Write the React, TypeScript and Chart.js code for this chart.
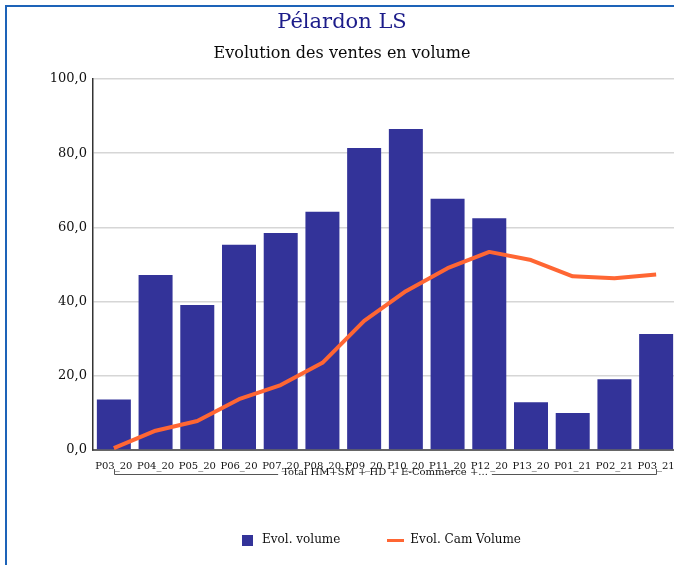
import React, { useEffect, useRef } from "react";
import { Chart, registerables } from "chart.js";

Chart.register(...registerables);

const categories = ["P03_20", "P04_20", "P05_20", "P06_20", "P07_20", "P08_20", "P09_20", "P10_20", "P11_20", "P12_20", "P13_20", "P01_21", "P02_21", "P03_21"];
const evolVolume = [13.6, 47.2, 39.1, 55.3, 58.5, 64.2, 81.4, 86.5, 67.7, 62.5, 12.9, 10.0, 19.1, 31.3];
const evolCamVolume = [0.5, 5.2, 7.8, 13.7, 17.5, 23.5, 34.8, 42.8, 49.0, 53.4, 51.2, 46.8, 46.3, 47.3];
const groupLabel = "Total HM+SM + HD + E-Commerce +...";
const titleText = "Pélardon LS";
const subtitleText = "Evolution des ventes en volume";
const seriesNames = ["Evol. volume", "Evol. Cam Volume"];

const FONT = '"DejaVu Serif", serif';
const BAR_COLOR = "#333399";
const LINE_COLOR = "#ff6633";

const bracketPlugin = {
  id: "groupBracket",
  afterLayout(chart: any) {
    const lg = chart.legend;
    if (lg) {
      lg.left -= 5;
      lg.right -= 5;
    }
  },
  afterDraw(chart: any) {
    const xs = chart.scales.x;
    const ca = chart.chartArea;
    const ctx = chart.ctx;
    const n = categories.length;
    const x0 = xs.getPixelForTick(0);
    const x1 = xs.getPixelForTick(n - 1);
    const cx = (x0 + x1) / 2;
    const yTop = ca.bottom + 19;
    const yLine = ca.bottom + 24.5;
    ctx.save();
    ctx.font = "10px " + FONT;
    const w = ctx.measureText(groupLabel).width;
    ctx.strokeStyle = "#555555";
    ctx.lineWidth = 1;
    ctx.beginPath();
    ctx.moveTo(Math.round(x0) + 0.5, yTop);
    ctx.lineTo(Math.round(x0) + 0.5, yLine);
    ctx.lineTo(cx - w / 2 - 4, yLine);
    ctx.moveTo(cx + w / 2 + 4, yLine);
    ctx.lineTo(Math.round(x1) + 0.5, yLine);
    ctx.lineTo(Math.round(x1) + 0.5, yTop);
    ctx.stroke();
    ctx.fillStyle = "#111111";
    ctx.textAlign = "center";
    ctx.textBaseline = "middle";
    ctx.fillText(groupLabel, cx, ca.bottom + 22.5);
    ctx.restore();
  },
};

export default function App() {
  const canvasRef = useRef<HTMLCanvasElement | null>(null);

  useEffect(() => {
    if (!canvasRef.current) return;
    const sq = document.createElement("canvas");
    sq.width = 11;
    sq.height = 11;
    const sctx = sq.getContext("2d")!;
    sctx.fillStyle = BAR_COLOR;
    sctx.fillRect(0, 0, 11, 11);
    const ln = document.createElement("canvas");
    ln.width = 17;
    ln.height = 3;
    const lctx = ln.getContext("2d")!;
    lctx.fillStyle = LINE_COLOR;
    lctx.fillRect(0, 0, 17, 3);

    const chart = new Chart(canvasRef.current, {
      type: "bar",
      data: {
        labels: categories,
        datasets: [
          {
            type: "bar",
            label: seriesNames[0],
            data: evolVolume,
            backgroundColor: BAR_COLOR,
            borderWidth: 0,
            barPercentage: 1,
            categoryPercentage: 0.815,
            order: 1,
            pointStyle: sq as any,
          },
          {
            type: "line",
            label: seriesNames[1],
            data: evolCamVolume,
            borderColor: LINE_COLOR,
            backgroundColor: LINE_COLOR,
            borderWidth: 4,
            pointRadius: 0,
            tension: 0,
            borderJoinStyle: "round",
            order: 0,
            pointStyle: ln as any,
          } as any,
        ],
      },
      options: {
        animation: false,
        responsive: false,
        maintainAspectRatio: false,
        layout: { padding: { left: 0, right: 10, top: 0, bottom: 11 } },
        plugins: {
          tooltip: { enabled: false },
          title: {
            display: true,
            text: titleText,
            color: "#1c1c8a",
            font: { family: FONT, size: 21, weight: "normal" },
            padding: { top: 3, bottom: 0 },
          },
          subtitle: {
            display: true,
            text: subtitleText,
            color: "#0a0a0a",
            font: { family: FONT, size: 16, weight: "normal" },
            padding: { top: 9, bottom: 15.6 },
          },
          legend: {
            position: "bottom",
            fullSize: false,
            labels: {
              usePointStyle: true,
              pointStyleWidth: 17,
              padding: 47,
              color: "#111111",
              font: { family: FONT, size: 12 },
              sort: (a: any, b: any) => a.datasetIndex - b.datasetIndex,
            },
          },
        },
        scales: {
          x: {
            grid: { display: false, drawTicks: false },
            border: { display: true, color: "#666666", width: 2 },
            ticks: {
              autoSkip: false,
              maxRotation: 0,
              minRotation: 0,
              padding: 10,
              color: "#111111",
              font: { family: FONT, size: 10 },
            },
            afterFit: (s: any) => {
              s.height = 37;
            },
          },
          y: {
            min: 0,
            max: 100,
            grid: { color: "#d6d6d6", lineWidth: 1.5, drawTicks: false },
            border: { display: true, color: "#333333", width: 1.5 },
            ticks: {
              stepSize: 20,
              padding: 6,
              color: "#111111",
              font: { family: FONT, size: 13 },
              callback: (v: any) => Number(v).toFixed(1).replace(".", ","),
            },
            afterFit: (s: any) => {
              s.width = 86;
            },
          },
        },
      },
      plugins: [bracketPlugin],
    });
    return () => chart.destroy();
  }, []);

  return (
    <div style={{ position: "fixed", left: 0, top: 0, width: "100vw", height: "100vh", overflow: "hidden", background: "#ffffff" }}>
      <div style={{ position: "absolute", left: 5, top: 5, width: 680, height: 600, border: "2px solid #1d63b8" }}>
        <canvas ref={canvasRef} width={680} height={560} style={{ display: "block", width: 680, height: 560 }} />
      </div>
    </div>
  );
}
